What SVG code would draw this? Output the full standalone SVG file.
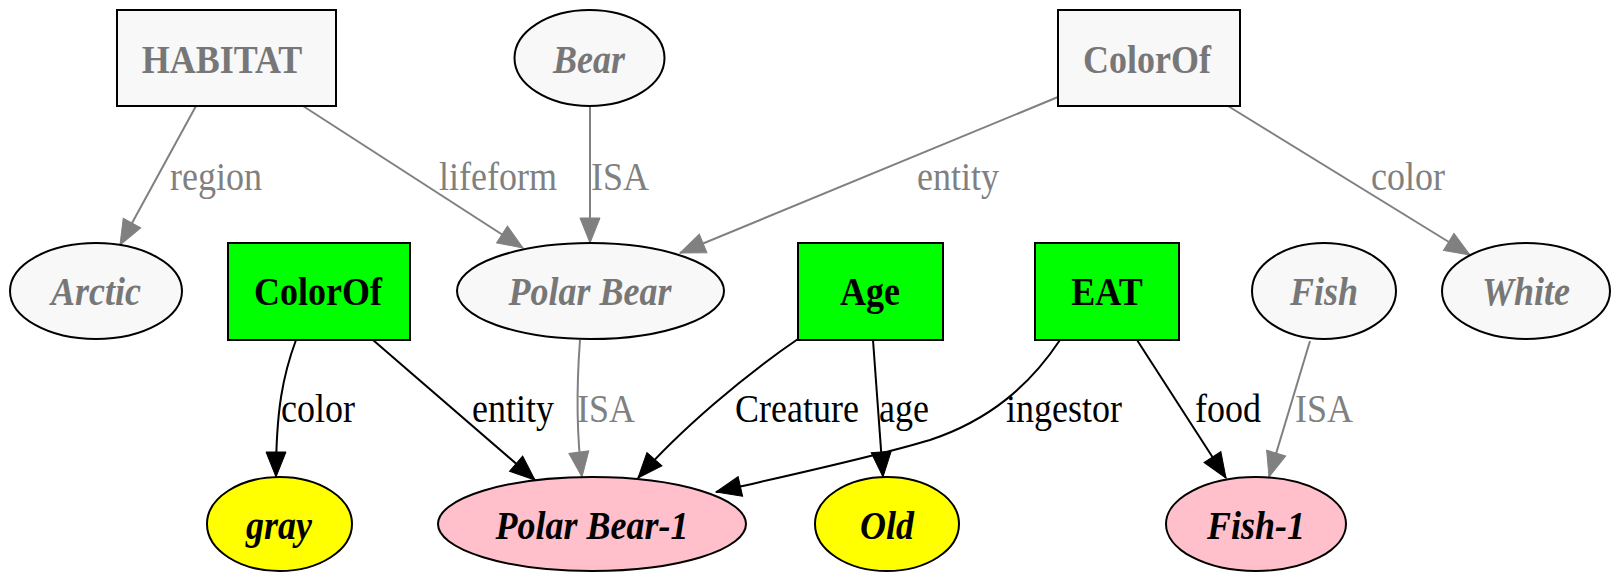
<svg xmlns="http://www.w3.org/2000/svg" width="1612" height="572" viewBox="0 0 1612 572">
<style>
.bg{fill:#ffffff}
.nl{fill:#f8f8f8;stroke:#000;stroke-width:2}
.ng{fill:#00ff00;stroke:#000;stroke-width:2}
.ny{fill:#ffff00;stroke:#000;stroke-width:2}
.np{fill:#ffc0cb;stroke:#000;stroke-width:2}
text{font-family:"Liberation Serif","Times New Roman",serif;font-size:36px}
.tg{fill:#777777;font-weight:bold;text-anchor:middle}
.tgi{fill:#777777;font-weight:bold;font-style:italic;text-anchor:middle}
.tb{fill:#000;font-weight:bold;text-anchor:middle}
.tbi{fill:#000;font-weight:bold;font-style:italic;text-anchor:middle}
.lg{fill:#808080}
.lb{fill:#000}
.eg{fill:none;stroke:#808080;stroke-width:2}
.eb{fill:none;stroke:#000;stroke-width:2}
</style>
<defs>
<marker id="ag" markerUnits="userSpaceOnUse" markerWidth="26" markerHeight="22" viewBox="0 0 26 22" refX="25" refY="10" orient="auto" overflow="visible">
<path d="M0,0 L25,10 L0,20 Z" fill="#808080" stroke="#808080" stroke-width="1"/>
</marker>
<marker id="ab" markerUnits="userSpaceOnUse" markerWidth="26" markerHeight="22" viewBox="0 0 26 22" refX="25" refY="10" orient="auto" overflow="visible">
<path d="M0,0 L25,10 L0,20 Z" fill="#000" stroke="#000" stroke-width="1"/>
</marker>
</defs>
<rect class="bg" x="0" y="0" width="1612" height="572"/>
<g id="edges">
<path class="eg" d="M196,106 L120,245" marker-end="url(#ag)"/>
<path class="eg" d="M303,106 L523,248" marker-end="url(#ag)"/>
<path class="eg" d="M590,106 L590,243" marker-end="url(#ag)"/>
<path class="eg" d="M1058,97 L680,253" marker-end="url(#ag)"/>
<path class="eg" d="M1228,106 L1470,255" marker-end="url(#ag)"/>
<path class="eg" d="M580,340 C577,380 576,430 582,477" marker-end="url(#ag)"/>
<path class="eg" d="M1310,341 L1269,477" marker-end="url(#ag)"/>
<path class="eb" d="M296,340 C283,375 276,410 276,477" marker-end="url(#ab)"/>
<path class="eb" d="M373,340 L535,480" marker-end="url(#ab)"/>
<path class="eb" d="M798,339 C745,375 680,430 638,478" marker-end="url(#ab)"/>
<path class="eb" d="M873,340 L883,477" marker-end="url(#ab)"/>
<path class="eb" d="M1060,340 C1030,385 990,420 930,440 C870,458 790,475 716,492" marker-end="url(#ab)"/>
<path class="eb" d="M1137,340 L1226,478" marker-end="url(#ab)"/>
<text class="lg" transform="translate(170 190) scale(1 1.12)">region</text>
<text class="lg" transform="translate(439 190) scale(1 1.12)">lifeform</text>
<text class="lg" transform="translate(591 190) scale(1 1.12)">ISA</text>
<text class="lg" transform="translate(917 190) scale(1 1.12)">entity</text>
<text class="lg" transform="translate(1371 190) scale(1 1.12)">color</text>
<text class="lb" transform="translate(281 422) scale(1 1.12)">color</text>
<text class="lb" transform="translate(472 422) scale(1 1.12)">entity</text>
<text class="lg" transform="translate(577 422) scale(1 1.12)">ISA</text>
<text class="lb" transform="translate(735 422) scale(1 1.12)">Creature</text>
<text class="lb" transform="translate(879 422) scale(1 1.12)">age</text>
<text class="lb" transform="translate(1006 422) scale(1 1.12)">ingestor</text>
<text class="lb" transform="translate(1195 422) scale(1 1.12)">food</text>
<text class="lg" transform="translate(1295 422) scale(1 1.12)">ISA</text>
</g>
<g id="n_habitat"><rect class="nl" x="117" y="10" width="219" height="96"/><text class="tg" transform="translate(222 73) scale(1 1.12)">HABITAT</text></g>
<g id="n_bear"><ellipse class="nl" cx="589.5" cy="58" rx="75" ry="48"/><text class="tgi" transform="translate(589 73) scale(1 1.12)">Bear</text></g>
<g id="n_colorof_top"><rect class="nl" x="1058" y="10" width="182" height="96"/><text class="tg" transform="translate(1147 73) scale(1 1.12)">ColorOf</text></g>
<g id="n_arctic"><ellipse class="nl" cx="96" cy="291" rx="86" ry="48"/><text class="tgi" transform="translate(96 305) scale(1 1.12)">Arctic</text></g>
<g id="n_colorof_green"><rect class="ng" x="228" y="243" width="182" height="97"/><text class="tb" transform="translate(318 305) scale(1 1.12)">ColorOf</text></g>
<g id="n_polarbear"><ellipse class="nl" cx="590.5" cy="291" rx="133.5" ry="48"/><text class="tgi" transform="translate(590 305) scale(1 1.12)">Polar Bear</text></g>
<g id="n_age"><rect class="ng" x="798" y="243" width="145" height="97"/><text class="tb" transform="translate(870 305) scale(1 1.12)">Age</text></g>
<g id="n_eat"><rect class="ng" x="1035" y="243" width="144" height="97"/><text class="tb" transform="translate(1107 305) scale(1 1.12)">EAT</text></g>
<g id="n_fish"><ellipse class="nl" cx="1324" cy="291" rx="72" ry="48"/><text class="tgi" transform="translate(1324 305) scale(1 1.12)">Fish</text></g>
<g id="n_white"><ellipse class="nl" cx="1526" cy="291" rx="84" ry="48"/><text class="tgi" transform="translate(1526 305) scale(1 1.12)">White</text></g>
<g id="n_gray"><ellipse class="ny" cx="279.5" cy="524" rx="72.5" ry="47"/><text class="tbi" transform="translate(279 539) scale(1 1.12)">gray</text></g>
<g id="n_pb1"><ellipse class="np" cx="592" cy="524" rx="154" ry="47"/><text class="tbi" transform="translate(592 539) scale(1 1.12)">Polar Bear-1</text></g>
<g id="n_old"><ellipse class="ny" cx="887" cy="524" rx="72" ry="47"/><text class="tbi" transform="translate(887 539) scale(1 1.12)">Old</text></g>
<g id="n_fish1"><ellipse class="np" cx="1256" cy="524" rx="90" ry="47"/><text class="tbi" transform="translate(1256 539) scale(1 1.12)">Fish-1</text></g>
</svg>
